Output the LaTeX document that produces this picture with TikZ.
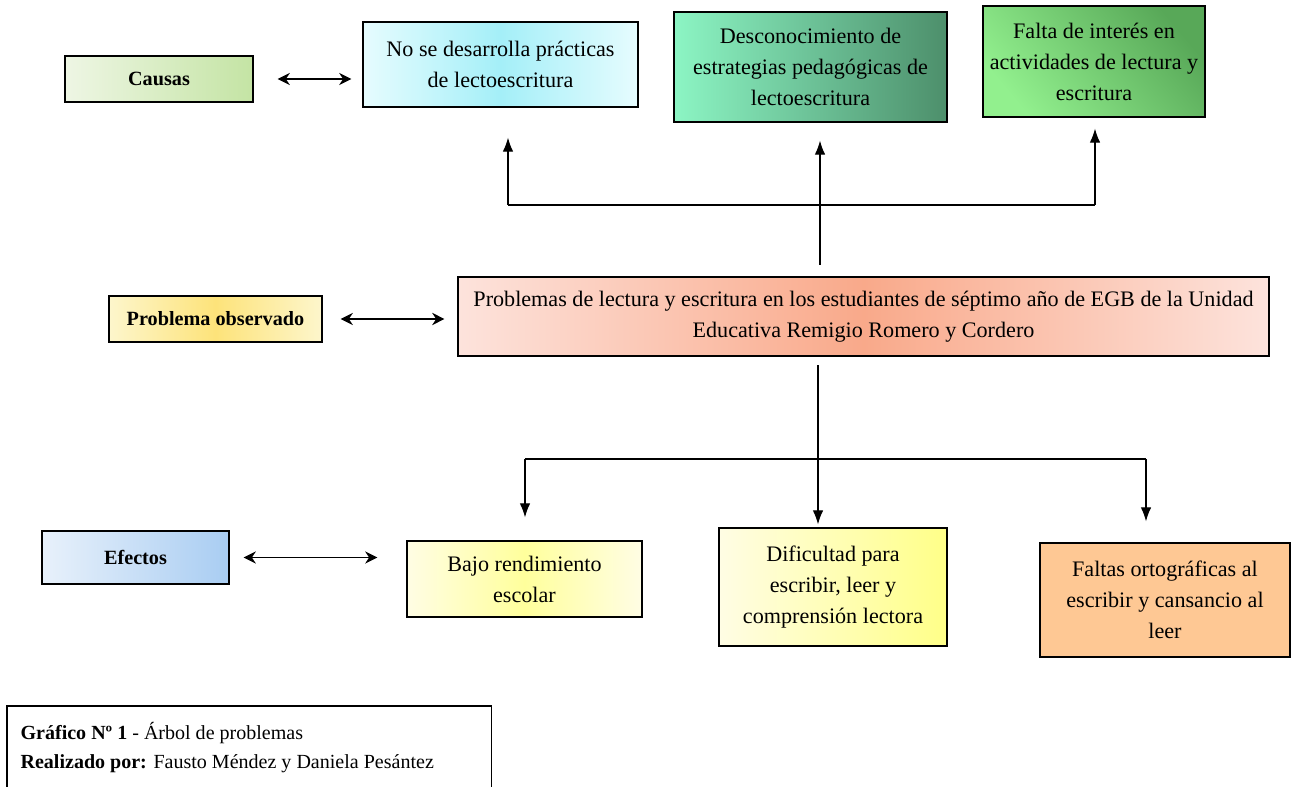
\documentclass[tikz,border=0pt]{standalone}
\usepackage{fontspec}
\setmainfont{Liberation Serif}
\usetikzlibrary{arrows, arrows.meta}

\definecolor{causaL}{HTML}{EEF6E4}
\definecolor{causaR}{HTML}{C4E4A4}
\definecolor{cyanL}{HTML}{E6FCFE}
\definecolor{cyanM}{HTML}{A4EFF8}
\definecolor{mintL}{HTML}{8CF5C4}
\definecolor{mintR}{HTML}{4D8F6B}
\definecolor{greenL}{HTML}{92F08E}
\definecolor{greenR}{HTML}{58A858}
\definecolor{probL}{HTML}{FDF6CC}
\definecolor{probM}{HTML}{FDE37A}
\definecolor{salmonL}{HTML}{FDE3DC}
\definecolor{salmonM}{HTML}{F9A98A}
\definecolor{efL}{HTML}{E8F1FB}
\definecolor{efR}{HTML}{A9CDF2}
\definecolor{yelL}{HTML}{FFFDE4}
\definecolor{yelM}{HTML}{FFFF9C}
\definecolor{yelR}{HTML}{FFFF88}
\definecolor{peach}{HTML}{FEC894}

\begin{document}
\begin{tikzpicture}[x=0.02cm, y=-0.02cm, line width=0.7pt,
    box/.style={draw, align=center, inner sep=2pt, font=\fontsize{12.6}{17.6}\selectfont},
    tag/.style={box, font=\bfseries\fontsize{11.5}{14}\selectfont},
    arr/.style={-{Latex[length=8pt, width=6pt]}},
    twoway/.style={{Stealth[length=7pt, width=7pt]}-{Stealth[length=7pt, width=7pt]}}]
\useasboundingbox (0,0) rectangle (1292,787);

% causas
\node[tag, left color=causaL, right color=causaR, minimum width=3.76cm, minimum height=0.92cm] (causas) at (159,79) {Causas};
\node[box, left color=cyanL, right color=cyanL, middle color=cyanM, minimum width=5.5cm, minimum height=1.7cm] (c1) at (500.5,64.5) {No se desarrolla prácticas\\de lectoescritura};
\node[box, left color=mintL, right color=mintR, minimum width=5.46cm, minimum height=2.2cm] (c2) at (810.5,67) {Desconocimiento de\\estrategias pedagógicas de\\lectoescritura};
\node[box, top color=greenR, bottom color=greenL, shading angle=-50, minimum width=4.44cm, minimum height=2.22cm] (c3) at (1094,61.5) {Falta de interés en\\actividades de lectura y\\escritura};

% problema
\node[tag, left color=probL, right color=probL, middle color=probM, minimum width=4.26cm, minimum height=0.92cm] (obs) at (215.5,319) {Problema observado};
\node[box, left color=salmonL, right color=salmonL, middle color=salmonM, minimum width=16.22cm, minimum height=1.58cm] (prob) at (863.5,316.5) {Problemas de lectura y escritura en los estudiantes de séptimo año de EGB de la Unidad\\Educativa Remigio Romero y Cordero};

% efectos
\node[tag, left color=efL, right color=efR, minimum width=3.74cm, minimum height=1.06cm] (efectos) at (135.5,557.5) {Efectos};
\node[box, left color=yelL, right color=yelL, middle color=yelM, minimum width=4.7cm, minimum height=1.52cm] (e1) at (524.5,579) {Bajo rendimiento\\escolar};
\node[box, left color=yelL, right color=yelR, minimum width=4.56cm, minimum height=2.36cm] (e2) at (833,587) {Dificultad para\\escribir, leer y\\comprensión lectora};
\node[box, fill=peach, minimum width=5cm, minimum height=2.28cm] (e3) at (1165,600) {Faltas ortográficas al\\escribir y cansancio al\\leer};

% flechas dobles
\draw[twoway, shorten <=0.48cm, shorten >=0.22cm] (causas.east) -- (causas.east -| c1.west);
\draw[twoway, shorten <=0.36cm, shorten >=0.26cm] (obs.east) -- (obs.east -| prob.west);
\draw[twoway, shorten <=0.28cm, shorten >=0.58cm] (efectos.east) -- (efectos.east -| e1.west);

% causas: tronco y ramas
\coordinate (ctop) at (820,265);
\coordinate (cl) at (508,205);
\coordinate (cr) at (1095,205);
\draw (cl) -- (cr);
\draw[arr, shorten >=0.36cm] (ctop) -- (ctop |- c2.south);
\draw[arr, shorten >=0.6cm] (cl) -- (cl |- c1.south);
\draw[arr, shorten >=0.22cm] (cr) -- (cr |- c3.south);

% efectos: tronco y ramas
\coordinate (etop) at (818,365);
\coordinate (el) at (525,459);
\coordinate (er) at (1146,459);
\draw (el) -- (er);
\draw[arr, shorten >=0.06cm] (etop) -- (etop |- e2.north);
\draw[arr, shorten >=0.46cm] (el) -- (el |- e1.north);
\draw[arr, shorten >=0.42cm] (er) -- (er |- e3.north);

% nota
\node[anchor=north west, align=flush left, inner xsep=0.26cm, inner ysep=0.22cm, text width=9.14cm, minimum height=1.62cm, font=\fontsize{11.4}{16.5}\selectfont] (nota) at (7,706) {\textbf{Gráfico Nº 1} - Árbol de problemas\\\textbf{Realizado por:} Fausto Méndez y Daniela Pesántez};
\draw (nota.south west) -- (nota.north west) -- (nota.north east) -- (nota.south east);
\end{tikzpicture}
\end{document}
